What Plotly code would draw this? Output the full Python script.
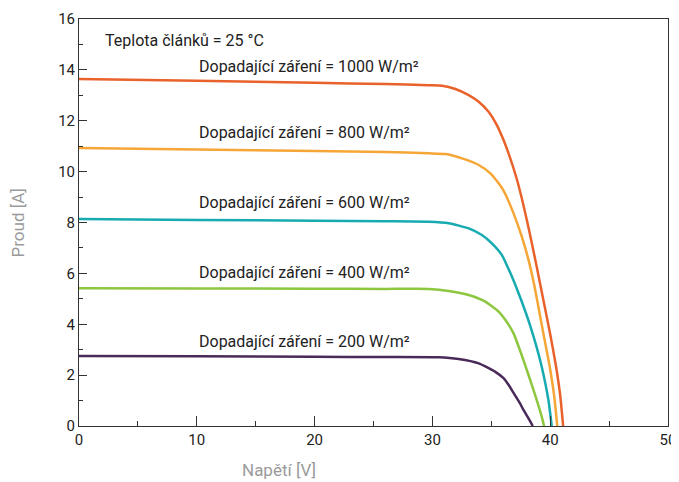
import plotly.graph_objects as go

# Data (Napětí [V] vs Proud [A])
v_1000 = [0, 10, 20, 26, 29.7, 30.82, 31.95, 33.08, 33.93, 34.77, 35.47, 36.04, 36.61, 37.17,
          37.73, 38.30, 38.86, 39.42, 39.99, 40.5, 40.85, 41.1]
i_1000 = [13.64, 13.57, 13.49, 13.44, 13.40, 13.38, 13.25, 13.01, 12.75, 12.35, 11.83, 11.24, 10.52, 9.7,
          8.68, 7.5, 6.25, 4.95, 3.64, 2.33, 1.2, 0]

v_800 = [0, 10, 20, 26, 29.7, 31.11, 32.51, 33.93, 34.92, 35.62, 36.04, 36.89, 37.59, 38.16,
         38.64, 38.89, 39.42, 39.99, 40.36, 40.6]
i_800 = [10.93, 10.87, 10.81, 10.77, 10.72, 10.69, 10.52, 10.26, 9.93, 9.54, 9.25, 8.36, 7.44, 6.53,
         5.55, 4.95, 3.64, 2.25, 1.1, 0]

v_600 = [0, 10, 20, 26, 29.7, 31.39, 33.08, 34.2, 35.05, 35.9, 36.6, 37.25, 37.8, 38.3, 38.8,
         39.28, 39.85, 40.13]
i_600 = [8.14, 8.1, 8.07, 8.05, 8.03, 7.97, 7.77, 7.51, 7.18, 6.72, 6.03, 5.3, 4.62, 3.95, 3.18,
         2.33, 1.02, 0]

v_400 = [0, 10, 20, 26, 29.7, 31.39, 33.08, 34.49, 35.62, 36.2, 36.89, 37.73, 38.58, 39.28, 39.48]
i_400 = [5.42, 5.41, 5.40, 5.39, 5.39, 5.31, 5.15, 4.89, 4.5, 4.17, 3.64, 2.59, 1.42, 0.37, 0]

v_200 = [0, 10, 20, 26, 30.54, 32.23, 33.93, 35.34, 36.04, 36.46, 36.89, 37.45, 37.73, 38.16, 38.52]
i_200 = [2.75, 2.74, 2.72, 2.71, 2.70, 2.63, 2.46, 2.13, 1.88, 1.62, 1.3, 0.88, 0.63, 0.3, 0]

series = [
    ("1000 W/m²", v_1000, i_1000, "#E9622B"),
    ("800 W/m²", v_800, i_800, "#F6A636"),
    ("600 W/m²", v_600, i_600, "#17AAB0"),
    ("400 W/m²", v_400, i_400, "#8DC63F"),
    ("200 W/m²", v_200, i_200, "#4A2A58"),
]

label_y = [14.15, 11.52, 8.78, 6.03, 3.32]

FONT = "Roboto, Liberation Sans, Arial, sans-serif"

fig = go.Figure()
for name, v, i, c in series:
    fig.add_trace(go.Scatter(x=v, y=i, mode="lines", name=name,
                             line=dict(color=c, width=2.5, shape="spline", smoothing=0.5),
                             showlegend=False, hoverinfo="skip"))

annotations = [dict(x=2.0, y=15.15, xref="x", yref="y", text="Teplota článků = 25 °C",
                    showarrow=False, xanchor="left", yanchor="middle",
                    font=dict(family=FONT, size=16, color="#222"))]
for (name, v, i, c), ly in zip(series, label_y):
    annotations.append(dict(x=9.98, y=ly, xref="x", yref="y",
                            text="Dopadající záření = " + name, showarrow=False,
                            xanchor="left", yanchor="middle",
                            font=dict(family=FONT, size=16, color="#222")))
annotations.append(dict(x=0.34, y=-0.108, xref="paper", yref="paper", text="Napětí [V]",
                        showarrow=False, xanchor="center", yanchor="middle",
                        font=dict(family=FONT, size=17, color="#9a9a9a")))
annotations.append(dict(x=-0.1036, y=0.5, xref="paper", yref="paper", text="Proud [A]",
                        showarrow=False, xanchor="center", yanchor="middle", textangle=-90,
                        font=dict(family=FONT, size=17, color="#9a9a9a")))

fig.update_layout(
    width=671, height=474,
    margin=dict(l=71, r=11, t=11, b=56, autoexpand=False),
    paper_bgcolor="white", plot_bgcolor="white",
    annotations=annotations,
    font=dict(family=FONT, size=15, color="#222"),
)
fig.update_xaxes(range=[0, 50], dtick=10, tick0=0, ticks="inside", ticklen=10,
                 tickcolor="#333", showline=True, linecolor="#333", linewidth=1,
                 mirror=True, showgrid=False, zeroline=False, automargin=False,
                 minor=dict(dtick=5, ticks="inside", ticklen=5, tickcolor="#333"))
fig.update_yaxes(range=[0, 16], dtick=2, tick0=0, ticks="inside", ticklen=8,
                 tickcolor="#333", showline=True, linecolor="#333", linewidth=1,
                 mirror=True, showgrid=False, zeroline=False, automargin=False,
                 minor=dict(dtick=1, ticks="inside", ticklen=4, tickcolor="#333"))

fig.write_html("out.html")
